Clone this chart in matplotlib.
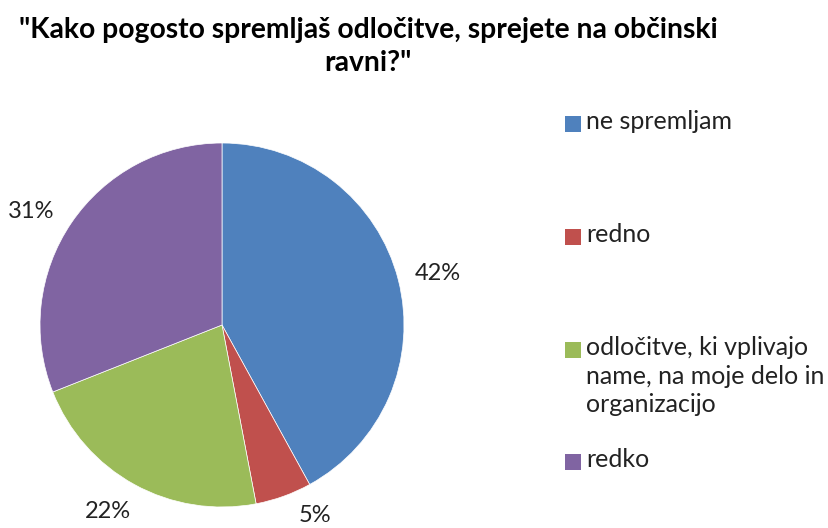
import numpy as np
import matplotlib.pyplot as plt
from matplotlib.patches import Rectangle

categories = ["ne spremljam", "redno",
              "odločitve, ki vplivajo\nname, na moje delo in\norganizacijo", "redko"]
shares = [42, 5, 22, 31]
colors = ["#4F81BD", "#C0504D", "#9BBB59", "#8064A2"]
pct_labels = ["42%", "5%", "22%", "31%"]

plt.rcParams['font.family'] = ['Lato', 'DejaVu Sans']

fig = plt.figure(figsize=(8.29, 5.28), dpi=100)
W, H = 829, 528

# pie axes: centre (222, 325) px, radius 182 px
cx, cy, r = 222, 325, 182
ax = fig.add_axes([(cx - r) / W, (H - cy - r) / H, 2 * r / W, 2 * r / H])
wedges, _ = ax.pie(shares, colors=colors, startangle=90, counterclock=False,
                   radius=1, wedgeprops=dict(linewidth=0.5, edgecolor="white"))
ax.set_xlim(-1, 1)
ax.set_ylim(-1, 1)
ax.set_aspect("equal")
ax.axis("off")

# data label placement (angle in degrees, distance in radii) as Excel put them
label_pos = [(13.5, 1.22), (-64, 1.165), (-121.6, 1.2), (149.4, 1.22)]
for txt, (ang, d) in zip(pct_labels, label_pos):
    a = np.deg2rad(ang)
    ax.text(d * np.cos(a), d * np.sin(a), txt, ha="center", va="center",
            fontsize=17, color="#222222")

fig.text(368 / W, 1 - 30 / H, "\"Kako pogosto spremljaš odločitve, sprejete na občinski",
         ha="center", va="center", fontsize=20.3, fontweight="bold")
fig.text(368 / W, 1 - 63 / H, "ravni?\"", ha="center", va="center",
         fontsize=20.3, fontweight="bold")

# legend drawn by hand
legend_y = [124, 237, 350, 462]
for lab, col, y in zip(categories, colors, legend_y):
    fig.patches.append(Rectangle((565 / W, 1 - (y + 8) / H), 16 / W, 16 / H,
                                 transform=fig.transFigure, facecolor=col,
                                 edgecolor="none"))
    fig.text(586 / W, 1 - (y - 14) / H, lab, ha="left", va="top",
             fontsize=18, color="#222222", linespacing=1.3)

fig.savefig("out.png", dpi=100)
